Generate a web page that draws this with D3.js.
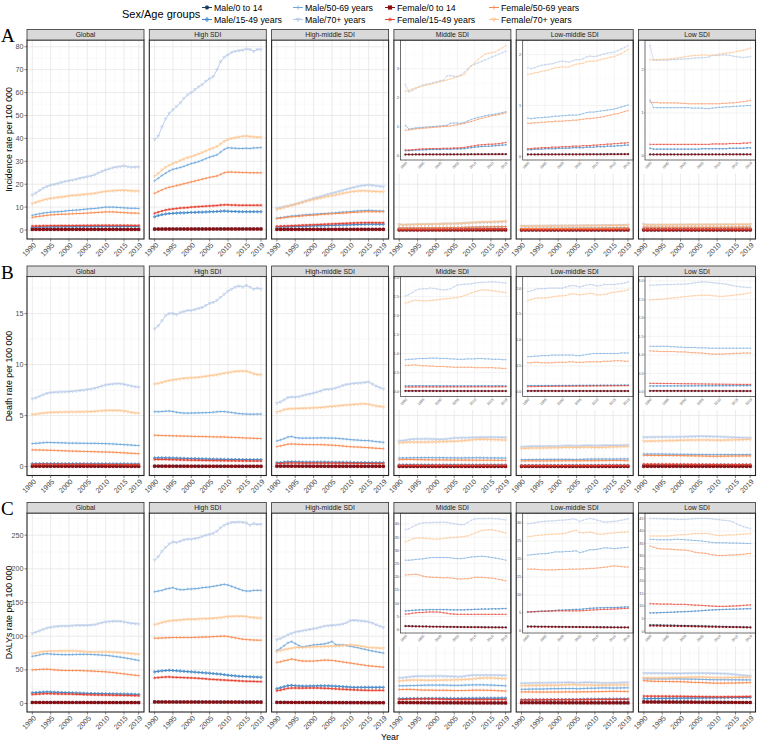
<!DOCTYPE html>
<html><head><meta charset="utf-8">
<script src="https://cdn.jsdelivr.net/npm/d3@7"></script>
<style>body{margin:0;background:#fff}text{font-family:"Liberation Sans",Arial,sans-serif}</style>
</head><body>
<svg id="chart" width="759" height="742"></svg>
<script>
// ---------------- DATA ----------------
const years = [1990,1991,1992,1993,1994,1995,1996,1997,1998,1999,2000,2001,2002,2003,2004,2005,2006,2007,2008,2009,2010,2011,2012,2013,2014,2015,2016,2017,2018,2019];
const xTicks = [1990,1995,2000,2005,2010,2015,2019];
const locations = ["Global","High SDI","High-middle SDI","Middle SDI","Low-middle SDI","Low SDI"];
const groups = ["Male/0 to 14","Male/15-49 years","Male/50-69 years","Male/70+ years","Female/0 to 14","Female/15-49 years","Female/50-69 years","Female/70+ years"];
const measures = ["Incidence rate per 100 000","Death rate per 100 000","DALYs rate per 100 000"];
const rowLabels = ["A","B","C"];
const yTicksA = [0,10,20,30,40,50,60,70,80];
const yTicksB = [0,5,10,15];
const yTicksC = [0,50,100,150,200,250];
const insetTicksA = [[0,1,2,3],[0,1,2],[0,1,2]];
const insetTicksB = [[0,0.5,1,1.5,2,2.5,3],[0,0.5,1,1.5,2],[0,0.5,1,1.5,2,2.5,3]];
const insetTicksC = [[0,5,10,15,20,25,30,35,40],[0,5,10,15,20,25,30],[0,5,10,15,20,25,30,35,40,45]];

// series order: groups[0..7]
const inc_global = [
[0.30,0.30,0.30,0.31,0.31,0.31,0.31,0.31,0.31,0.31,0.31,0.31,0.31,0.31,0.31,0.31,0.31,0.31,0.31,0.31,0.31,0.31,0.31,0.31,0.31,0.30,0.30,0.30,0.30,0.30],
[1.20,1.25,1.29,1.33,1.36,1.39,1.41,1.43,1.44,1.45,1.46,1.47,1.48,1.49,1.50,1.51,1.52,1.53,1.54,1.55,1.56,1.56,1.56,1.56,1.56,1.55,1.55,1.54,1.54,1.54],
[6.4,6.8,7.1,7.4,7.6,7.8,7.9,8.0,8.1,8.3,8.5,8.6,8.7,8.8,9.0,9.2,9.3,9.4,9.6,9.8,10.0,10.0,10.0,9.9,9.8,9.7,9.6,9.5,9.5,9.4],
[15.3,16.2,17.3,18.3,19.0,19.6,19.9,20.3,20.8,21.2,21.5,21.8,22.2,22.6,22.9,23.3,23.6,24.1,24.9,25.6,26.2,26.7,27.2,27.5,27.7,28.0,27.6,27.4,27.5,27.5],
[0.25,0.25,0.25,0.25,0.26,0.26,0.26,0.26,0.26,0.26,0.26,0.26,0.26,0.26,0.26,0.26,0.26,0.26,0.26,0.26,0.26,0.26,0.26,0.26,0.26,0.25,0.25,0.25,0.25,0.25],
[1.70,1.76,1.81,1.85,1.88,1.90,1.92,1.93,1.94,1.95,1.96,1.97,1.98,1.99,2.00,2.01,2.02,2.03,2.04,2.05,2.06,2.06,2.06,2.05,2.05,2.04,2.03,2.02,2.01,2.01],
[5.5,5.8,6.0,6.2,6.4,6.6,6.7,6.8,6.9,6.9,7.0,7.1,7.2,7.2,7.3,7.4,7.5,7.6,7.7,7.8,7.9,7.9,7.9,7.8,7.7,7.6,7.5,7.4,7.4,7.3],
[11.5,12.1,12.6,13.1,13.5,13.8,14.0,14.2,14.4,14.6,14.9,15.1,15.2,15.3,15.5,15.7,15.8,16.0,16.3,16.6,16.8,17.0,17.1,17.2,17.3,17.3,17.2,17.1,17.0,17.0]];
const inc_high = [
[0.42,0.43,0.44,0.45,0.45,0.46,0.46,0.46,0.47,0.47,0.47,0.47,0.48,0.48,0.48,0.48,0.48,0.49,0.49,0.49,0.49,0.49,0.49,0.49,0.49,0.49,0.49,0.49,0.49,0.49],
[5.8,6.3,6.7,7.0,7.2,7.3,7.4,7.5,7.5,7.6,7.7,7.7,7.8,7.8,7.9,8.0,8.0,8.1,8.2,8.3,8.2,8.1,8.1,8.0,8.0,8.0,8.0,8.0,8.0,8.0],
[21.5,22.6,23.8,24.8,25.8,26.5,26.9,27.3,27.8,28.4,29.0,29.4,29.9,30.5,31.2,31.8,32.3,32.8,34.0,35.2,35.9,35.8,35.7,35.6,35.6,35.7,35.6,35.8,35.9,36.0],
[39.5,41.0,45.0,48.5,51.0,52.5,54.0,55.5,57.5,59.0,60.0,61.3,62.5,63.5,65.0,66.0,67.0,70.0,73.5,75.5,76.5,77.5,78.0,78.3,78.5,79.0,78.8,78.0,78.8,78.8],
[0.38,0.39,0.40,0.40,0.41,0.41,0.41,0.42,0.42,0.42,0.42,0.42,0.43,0.43,0.43,0.43,0.43,0.43,0.43,0.43,0.43,0.43,0.43,0.43,0.43,0.43,0.43,0.43,0.43,0.43],
[7.3,7.8,8.3,8.7,9.0,9.2,9.4,9.6,9.7,9.8,10.0,10.1,10.2,10.3,10.4,10.5,10.6,10.7,10.9,11.0,11.0,10.9,10.9,10.8,10.8,10.8,10.8,10.8,10.8,10.8],
[16.0,16.8,17.5,18.2,18.7,19.0,19.4,19.8,20.2,20.6,21.0,21.4,21.8,22.2,22.6,23.0,23.3,23.6,24.3,25.0,25.3,25.3,25.2,25.2,25.1,25.1,25.0,25.0,25.0,25.0],
[23.5,24.7,26.2,27.4,28.3,29.0,29.6,30.3,31.0,31.6,32.0,32.6,33.2,33.8,34.5,35.2,35.8,36.5,37.6,38.7,39.5,40.0,40.3,40.6,40.9,41.0,40.8,40.6,40.5,40.5]];
const inc_hm = [
[0.30,0.30,0.30,0.31,0.31,0.31,0.31,0.31,0.31,0.32,0.32,0.32,0.32,0.32,0.32,0.32,0.32,0.32,0.32,0.32,0.32,0.32,0.32,0.32,0.32,0.32,0.32,0.32,0.32,0.32],
[1.30,1.34,1.39,1.45,1.50,1.55,1.59,1.64,1.69,1.74,1.80,1.85,1.89,1.94,2.00,2.05,2.09,2.14,2.20,2.25,2.30,2.35,2.40,2.44,2.49,2.52,2.52,2.51,2.50,2.50],
[5.2,5.4,5.6,5.9,6.1,6.2,6.4,6.5,6.7,6.8,6.9,7.0,7.1,7.2,7.3,7.4,7.5,7.7,7.8,7.9,8.0,8.2,8.3,8.4,8.5,8.6,8.5,8.4,8.3,8.3],
[9.5,9.8,10.2,10.5,10.9,11.3,11.8,12.3,12.8,13.3,13.8,14.2,14.6,15.1,15.6,16.0,16.4,16.9,17.3,17.8,18.2,18.6,19.0,19.3,19.5,19.7,19.5,19.3,19.1,18.9],
[0.26,0.26,0.27,0.27,0.27,0.27,0.27,0.27,0.27,0.27,0.28,0.28,0.28,0.28,0.28,0.28,0.28,0.28,0.28,0.28,0.28,0.28,0.28,0.28,0.28,0.28,0.28,0.28,0.28,0.28],
[1.60,1.68,1.75,1.82,1.90,1.97,2.04,2.11,2.18,2.25,2.32,2.39,2.46,2.53,2.60,2.67,2.74,2.81,2.88,2.95,3.02,3.09,3.14,3.18,3.22,3.24,3.23,3.21,3.19,3.18],
[5.0,5.2,5.4,5.6,5.8,5.9,6.0,6.2,6.3,6.4,6.5,6.6,6.8,6.9,7.0,7.1,7.2,7.3,7.4,7.5,7.6,7.7,7.8,7.9,8.0,8.0,8.0,8.0,8.0,8.0],
[9.0,9.4,9.8,10.3,10.7,11.1,11.6,12.0,12.5,12.9,13.3,13.7,14.0,14.4,14.7,15.0,15.3,15.7,16.0,16.3,16.6,16.8,17.0,17.1,17.1,17.0,16.9,16.8,16.7,16.7]];
const inc_mid = [
[0.050,0.050,0.050,0.051,0.051,0.051,0.052,0.052,0.052,0.052,0.053,0.053,0.053,0.053,0.054,0.054,0.054,0.055,0.055,0.056,0.056,0.057,0.057,0.058,0.058,0.059,0.059,0.060,0.060,0.060],
[0.18,0.18,0.19,0.20,0.20,0.21,0.21,0.22,0.22,0.22,0.22,0.23,0.23,0.23,0.24,0.24,0.24,0.25,0.27,0.28,0.30,0.31,0.32,0.33,0.33,0.34,0.35,0.36,0.37,0.38],
[1.05,0.92,0.94,0.96,0.97,0.98,0.99,1.00,1.01,1.02,1.03,1.04,1.05,1.12,1.13,1.13,1.12,1.15,1.20,1.25,1.29,1.32,1.35,1.38,1.40,1.42,1.44,1.46,1.49,1.52],
[2.46,2.20,2.25,2.32,2.38,2.44,2.46,2.48,2.52,2.55,2.58,2.60,2.75,2.76,2.74,2.73,2.78,2.88,3.00,3.10,3.15,3.20,3.25,3.30,3.35,3.40,3.45,3.50,3.55,3.60],
[0.045,0.045,0.045,0.046,0.046,0.046,0.047,0.047,0.047,0.047,0.048,0.048,0.048,0.048,0.049,0.049,0.049,0.050,0.050,0.051,0.051,0.052,0.052,0.053,0.053,0.054,0.054,0.055,0.055,0.055],
[0.20,0.20,0.21,0.22,0.23,0.24,0.24,0.25,0.25,0.25,0.25,0.26,0.26,0.26,0.27,0.27,0.28,0.29,0.31,0.33,0.35,0.37,0.38,0.39,0.40,0.40,0.41,0.42,0.44,0.46],
[0.88,0.89,0.91,0.93,0.94,0.95,0.96,0.97,0.98,0.99,1.00,1.01,1.02,1.03,1.05,1.07,1.09,1.12,1.15,1.18,1.22,1.26,1.29,1.32,1.35,1.38,1.40,1.42,1.45,1.48],
[2.22,2.25,2.30,2.34,2.37,2.40,2.43,2.46,2.49,2.52,2.55,2.58,2.61,2.65,2.68,2.72,2.76,2.80,2.95,3.10,3.20,3.32,3.42,3.50,3.53,3.55,3.58,3.65,3.72,3.80]];
const inc_lm = [
[0.040,0.040,0.040,0.040,0.041,0.041,0.041,0.041,0.041,0.041,0.042,0.042,0.042,0.042,0.042,0.042,0.042,0.043,0.043,0.043,0.043,0.043,0.043,0.044,0.044,0.044,0.044,0.044,0.045,0.045],
[0.13,0.13,0.14,0.14,0.14,0.15,0.15,0.15,0.15,0.16,0.16,0.16,0.16,0.17,0.17,0.17,0.17,0.18,0.18,0.18,0.19,0.19,0.19,0.20,0.20,0.20,0.21,0.21,0.22,0.22],
[0.75,0.74,0.75,0.76,0.76,0.77,0.77,0.78,0.79,0.79,0.80,0.80,0.81,0.81,0.81,0.82,0.84,0.86,0.87,0.87,0.88,0.89,0.90,0.91,0.92,0.93,0.95,0.97,0.99,1.01],
[1.74,1.72,1.74,1.77,1.79,1.80,1.81,1.82,1.84,1.86,1.87,1.86,1.85,1.88,1.90,1.90,1.92,1.95,1.97,1.96,1.97,1.99,2.01,2.03,2.04,2.05,2.08,2.11,2.14,2.18],
[0.035,0.035,0.035,0.035,0.036,0.036,0.036,0.036,0.036,0.036,0.037,0.037,0.037,0.037,0.037,0.037,0.037,0.038,0.038,0.038,0.038,0.038,0.038,0.039,0.039,0.039,0.039,0.039,0.040,0.040],
[0.15,0.15,0.16,0.16,0.17,0.17,0.17,0.18,0.18,0.18,0.19,0.19,0.19,0.20,0.20,0.20,0.21,0.21,0.21,0.22,0.22,0.23,0.23,0.24,0.24,0.25,0.25,0.26,0.26,0.27],
[0.65,0.65,0.66,0.66,0.67,0.67,0.68,0.68,0.69,0.69,0.69,0.70,0.70,0.71,0.71,0.72,0.73,0.74,0.74,0.75,0.76,0.77,0.78,0.80,0.81,0.83,0.84,0.86,0.88,0.90],
[1.61,1.62,1.64,1.65,1.67,1.68,1.70,1.72,1.74,1.75,1.76,1.75,1.76,1.79,1.81,1.82,1.83,1.86,1.87,1.87,1.88,1.90,1.92,1.93,1.95,1.96,1.99,2.02,2.06,2.10]];
const inc_low = [
[0.040,0.040,0.040,0.040,0.040,0.040,0.040,0.040,0.040,0.040,0.040,0.040,0.041,0.041,0.041,0.041,0.041,0.041,0.041,0.041,0.041,0.041,0.042,0.042,0.042,0.042,0.042,0.042,0.042,0.042],
[0.18,0.16,0.16,0.16,0.16,0.16,0.16,0.16,0.16,0.16,0.16,0.16,0.16,0.16,0.16,0.17,0.17,0.17,0.17,0.17,0.17,0.17,0.17,0.18,0.18,0.18,0.18,0.18,0.19,0.19],
[1.30,1.12,1.12,1.12,1.12,1.12,1.12,1.12,1.12,1.12,1.12,1.12,1.11,1.11,1.11,1.11,1.10,1.10,1.11,1.12,1.13,1.13,1.14,1.14,1.15,1.15,1.16,1.16,1.17,1.17],
[2.56,2.22,2.22,2.22,2.22,2.22,2.23,2.23,2.24,2.24,2.25,2.25,2.26,2.27,2.27,2.28,2.28,2.29,2.33,2.33,2.33,2.34,2.34,2.33,2.31,2.30,2.29,2.28,2.29,2.30],
[0.035,0.035,0.035,0.035,0.035,0.035,0.035,0.035,0.035,0.035,0.035,0.035,0.036,0.036,0.036,0.036,0.036,0.036,0.036,0.036,0.036,0.036,0.037,0.037,0.037,0.037,0.037,0.037,0.037,0.037],
[0.27,0.27,0.27,0.27,0.27,0.27,0.27,0.27,0.27,0.27,0.27,0.27,0.27,0.27,0.27,0.27,0.27,0.27,0.28,0.28,0.28,0.28,0.28,0.29,0.29,0.29,0.29,0.30,0.30,0.31],
[1.25,1.24,1.24,1.23,1.23,1.23,1.23,1.23,1.23,1.22,1.22,1.21,1.21,1.21,1.21,1.21,1.21,1.21,1.21,1.21,1.21,1.22,1.22,1.23,1.23,1.24,1.25,1.26,1.27,1.29],
[2.23,2.23,2.23,2.23,2.24,2.24,2.25,2.26,2.27,2.28,2.30,2.31,2.32,2.33,2.33,2.34,2.34,2.33,2.33,2.34,2.36,2.37,2.38,2.39,2.40,2.42,2.43,2.45,2.47,2.50]];

const dea_global = [
[0.040,0.040,0.040,0.039,0.039,0.039,0.038,0.038,0.038,0.037,0.037,0.037,0.036,0.036,0.036,0.035,0.035,0.035,0.034,0.034,0.034,0.033,0.033,0.033,0.032,0.032,0.032,0.031,0.031,0.031],
[0.28,0.28,0.29,0.29,0.29,0.29,0.29,0.29,0.28,0.28,0.28,0.28,0.28,0.28,0.28,0.27,0.27,0.27,0.27,0.27,0.27,0.26,0.26,0.26,0.26,0.26,0.25,0.25,0.25,0.25],
[2.26,2.28,2.31,2.34,2.37,2.36,2.35,2.34,2.33,2.32,2.30,2.30,2.30,2.29,2.29,2.28,2.28,2.28,2.27,2.26,2.25,2.24,2.22,2.20,2.18,2.15,2.13,2.11,2.08,2.06],
[6.64,6.75,6.90,7.05,7.18,7.25,7.28,7.30,7.32,7.33,7.35,7.38,7.42,7.46,7.50,7.55,7.60,7.68,7.78,7.90,8.00,8.05,8.10,8.13,8.12,8.06,7.98,7.90,7.83,7.78],
[0.035,0.035,0.035,0.034,0.034,0.034,0.033,0.033,0.033,0.032,0.032,0.032,0.031,0.031,0.031,0.030,0.030,0.030,0.029,0.029,0.029,0.028,0.028,0.028,0.027,0.027,0.027,0.026,0.026,0.026],
[0.22,0.22,0.23,0.23,0.23,0.23,0.23,0.23,0.22,0.22,0.22,0.22,0.22,0.22,0.22,0.21,0.21,0.21,0.21,0.21,0.21,0.20,0.20,0.20,0.20,0.20,0.19,0.19,0.19,0.19],
[1.64,1.63,1.63,1.62,1.61,1.60,1.59,1.57,1.56,1.55,1.53,1.52,1.51,1.50,1.49,1.48,1.47,1.46,1.45,1.44,1.43,1.42,1.41,1.39,1.37,1.35,1.33,1.31,1.29,1.27],
[5.10,5.15,5.20,5.25,5.28,5.30,5.32,5.33,5.34,5.35,5.35,5.36,5.36,5.37,5.37,5.38,5.39,5.41,5.44,5.47,5.49,5.50,5.50,5.50,5.49,5.45,5.38,5.31,5.26,5.23]];
const dea_high = [
[0.050,0.049,0.048,0.047,0.046,0.045,0.044,0.043,0.042,0.041,0.040,0.040,0.039,0.039,0.038,0.038,0.037,0.037,0.036,0.036,0.036,0.035,0.035,0.035,0.034,0.034,0.034,0.034,0.033,0.033],
[0.85,0.86,0.86,0.86,0.85,0.84,0.83,0.82,0.81,0.80,0.79,0.78,0.77,0.76,0.75,0.74,0.73,0.72,0.72,0.71,0.71,0.70,0.70,0.70,0.69,0.69,0.69,0.68,0.68,0.68],
[5.39,5.38,5.40,5.43,5.45,5.40,5.33,5.28,5.25,5.24,5.25,5.26,5.27,5.28,5.29,5.30,5.33,5.37,5.40,5.39,5.35,5.30,5.25,5.20,5.17,5.15,5.14,5.14,5.15,5.15],
[13.5,13.8,14.3,14.8,15.0,15.0,14.9,15.1,15.2,15.3,15.3,15.4,15.5,15.6,15.8,16.0,16.1,16.3,16.6,16.9,17.2,17.4,17.6,17.7,17.6,17.75,17.6,17.4,17.5,17.4],
[0.040,0.039,0.038,0.038,0.037,0.036,0.036,0.035,0.034,0.034,0.033,0.033,0.032,0.032,0.031,0.031,0.031,0.030,0.030,0.030,0.029,0.029,0.029,0.029,0.028,0.028,0.028,0.028,0.028,0.028],
[0.70,0.70,0.70,0.70,0.69,0.68,0.67,0.66,0.65,0.64,0.63,0.62,0.62,0.61,0.60,0.60,0.59,0.59,0.58,0.58,0.57,0.57,0.57,0.56,0.56,0.56,0.55,0.55,0.55,0.55],
[3.07,3.06,3.05,3.04,3.03,3.02,3.01,3.00,2.99,2.98,2.97,2.96,2.95,2.95,2.94,2.93,2.92,2.91,2.91,2.90,2.88,2.87,2.85,2.84,2.82,2.80,2.79,2.78,2.76,2.75],
[8.08,8.15,8.25,8.35,8.43,8.50,8.55,8.60,8.65,8.68,8.70,8.72,8.75,8.80,8.85,8.90,8.95,9.00,9.08,9.15,9.20,9.27,9.32,9.35,9.36,9.35,9.25,9.10,9.02,9.00]];
const dea_hm = [
[0.050,0.050,0.050,0.050,0.049,0.048,0.047,0.046,0.045,0.044,0.043,0.042,0.041,0.040,0.039,0.038,0.037,0.036,0.035,0.035,0.034,0.034,0.033,0.033,0.032,0.032,0.032,0.031,0.031,0.031],
[0.38,0.40,0.43,0.46,0.47,0.46,0.45,0.44,0.44,0.44,0.44,0.44,0.44,0.44,0.43,0.43,0.42,0.42,0.42,0.41,0.41,0.40,0.40,0.40,0.39,0.39,0.39,0.38,0.38,0.38],
[2.52,2.62,2.75,2.90,2.95,2.85,2.80,2.79,2.80,2.80,2.80,2.81,2.82,2.81,2.80,2.80,2.78,2.75,2.72,2.69,2.65,2.62,2.60,2.57,2.55,2.55,2.50,2.45,2.42,2.38],
[6.22,6.35,6.55,6.77,6.82,6.80,6.85,6.95,7.05,7.12,7.20,7.30,7.42,7.55,7.58,7.60,7.70,7.82,7.95,8.05,8.10,8.15,8.18,8.20,8.25,8.30,8.10,7.90,7.75,7.62],
[0.040,0.040,0.040,0.040,0.039,0.038,0.037,0.036,0.036,0.035,0.034,0.033,0.033,0.032,0.031,0.031,0.030,0.029,0.029,0.028,0.028,0.027,0.027,0.027,0.026,0.026,0.026,0.025,0.025,0.025],
[0.30,0.31,0.33,0.35,0.36,0.35,0.35,0.34,0.34,0.34,0.34,0.34,0.34,0.34,0.34,0.33,0.33,0.33,0.33,0.32,0.32,0.32,0.31,0.31,0.31,0.31,0.30,0.30,0.30,0.30],
[1.96,2.03,2.12,2.20,2.22,2.20,2.18,2.17,2.16,2.16,2.15,2.15,2.15,2.14,2.12,2.10,2.08,2.05,2.02,1.98,1.95,1.93,1.92,1.90,1.88,1.85,1.83,1.80,1.78,1.75],
[5.33,5.45,5.58,5.65,5.67,5.68,5.70,5.71,5.72,5.74,5.75,5.77,5.80,5.83,5.87,5.90,5.93,5.96,6.00,6.03,6.05,6.08,6.11,6.15,6.15,6.10,6.02,5.95,5.90,5.85]];
const dea_mid = [
[0.022,0.022,0.022,0.022,0.021,0.021,0.021,0.021,0.021,0.020,0.020,0.020,0.020,0.020,0.020,0.019,0.019,0.019,0.019,0.019,0.019,0.019,0.018,0.018,0.018,0.018,0.018,0.018,0.018,0.018],
[0.150,0.151,0.152,0.153,0.153,0.153,0.153,0.152,0.152,0.152,0.151,0.151,0.151,0.150,0.150,0.150,0.150,0.150,0.150,0.151,0.151,0.151,0.152,0.152,0.152,0.152,0.152,0.152,0.152,0.152],
[0.84,0.85,0.85,0.86,0.87,0.87,0.87,0.88,0.88,0.88,0.87,0.87,0.87,0.86,0.86,0.85,0.85,0.85,0.86,0.86,0.86,0.87,0.87,0.86,0.86,0.85,0.85,0.85,0.84,0.84],
[2.51,2.55,2.60,2.66,2.69,2.70,2.70,2.72,2.71,2.70,2.68,2.67,2.68,2.70,2.75,2.80,2.81,2.82,2.82,2.83,2.85,2.86,2.87,2.87,2.88,2.88,2.88,2.87,2.86,2.85],
[0.020,0.020,0.020,0.020,0.019,0.019,0.019,0.019,0.019,0.018,0.018,0.018,0.018,0.018,0.018,0.017,0.017,0.017,0.017,0.017,0.017,0.017,0.016,0.016,0.016,0.016,0.016,0.016,0.016,0.016],
[0.120,0.121,0.122,0.123,0.124,0.124,0.124,0.124,0.124,0.124,0.124,0.124,0.125,0.125,0.125,0.125,0.125,0.125,0.126,0.126,0.126,0.126,0.127,0.127,0.127,0.127,0.128,0.128,0.128,0.128],
[0.69,0.69,0.70,0.70,0.69,0.68,0.68,0.67,0.67,0.66,0.66,0.66,0.65,0.65,0.64,0.64,0.64,0.64,0.64,0.64,0.63,0.63,0.63,0.63,0.63,0.63,0.62,0.62,0.61,0.61],
[2.32,2.35,2.38,2.40,2.39,2.38,2.38,2.39,2.40,2.41,2.42,2.43,2.44,2.45,2.46,2.47,2.49,2.52,2.55,2.59,2.62,2.65,2.67,2.67,2.66,2.65,2.64,2.63,2.61,2.60]];
const dea_lm = [
[0.020,0.020,0.020,0.020,0.020,0.020,0.020,0.020,0.019,0.019,0.019,0.019,0.019,0.019,0.019,0.019,0.019,0.019,0.019,0.019,0.018,0.018,0.018,0.018,0.018,0.018,0.018,0.018,0.018,0.018],
[0.120,0.120,0.120,0.121,0.121,0.121,0.122,0.122,0.122,0.123,0.123,0.123,0.124,0.124,0.124,0.125,0.125,0.125,0.126,0.126,0.126,0.127,0.127,0.127,0.128,0.128,0.128,0.129,0.129,0.130],
[0.68,0.68,0.69,0.69,0.70,0.70,0.70,0.71,0.71,0.71,0.71,0.71,0.71,0.71,0.70,0.70,0.71,0.72,0.73,0.74,0.74,0.74,0.74,0.74,0.74,0.74,0.74,0.75,0.75,0.75],
[1.93,1.95,1.97,1.99,1.99,1.99,2.00,2.00,2.00,2.00,2.00,2.02,2.04,2.05,2.04,2.02,2.04,2.06,2.07,2.06,2.04,2.05,2.07,2.07,2.07,2.07,2.08,2.09,2.10,2.12],
[0.018,0.018,0.018,0.018,0.018,0.018,0.018,0.018,0.017,0.017,0.017,0.017,0.017,0.017,0.017,0.017,0.017,0.017,0.017,0.017,0.016,0.016,0.016,0.016,0.016,0.016,0.016,0.016,0.016,0.016],
[0.100,0.101,0.102,0.103,0.104,0.104,0.105,0.106,0.106,0.107,0.108,0.108,0.109,0.110,0.110,0.111,0.112,0.112,0.113,0.114,0.114,0.115,0.116,0.116,0.117,0.118,0.118,0.119,0.119,0.120],
[0.56,0.56,0.57,0.57,0.56,0.56,0.56,0.56,0.57,0.57,0.57,0.57,0.58,0.58,0.57,0.57,0.57,0.58,0.58,0.58,0.58,0.58,0.59,0.59,0.59,0.60,0.60,0.60,0.59,0.59],
[1.76,1.78,1.80,1.81,1.81,1.81,1.82,1.83,1.84,1.85,1.85,1.86,1.88,1.89,1.88,1.87,1.88,1.89,1.90,1.89,1.87,1.87,1.88,1.89,1.91,1.92,1.93,1.94,1.95,1.97]];
const dea_low = [
[0.030,0.030,0.030,0.030,0.030,0.029,0.029,0.029,0.029,0.029,0.028,0.028,0.028,0.028,0.028,0.027,0.027,0.027,0.027,0.027,0.026,0.026,0.026,0.026,0.026,0.025,0.025,0.025,0.025,0.025],
[0.160,0.160,0.160,0.160,0.161,0.161,0.161,0.162,0.162,0.162,0.163,0.163,0.163,0.164,0.164,0.164,0.165,0.165,0.165,0.166,0.166,0.166,0.167,0.167,0.167,0.168,0.168,0.168,0.169,0.170],
[1.23,1.23,1.23,1.23,1.23,1.23,1.22,1.22,1.21,1.21,1.20,1.20,1.20,1.20,1.19,1.19,1.19,1.18,1.18,1.18,1.18,1.18,1.18,1.18,1.18,1.18,1.18,1.18,1.18,1.18],
[2.88,2.88,2.89,2.89,2.90,2.90,2.90,2.90,2.91,2.91,2.91,2.92,2.93,2.95,2.96,2.97,2.97,2.96,2.95,2.94,2.93,2.92,2.91,2.89,2.87,2.85,2.84,2.83,2.82,2.82],
[0.028,0.028,0.028,0.028,0.027,0.027,0.027,0.027,0.027,0.026,0.026,0.026,0.026,0.026,0.025,0.025,0.025,0.025,0.025,0.024,0.024,0.024,0.024,0.024,0.024,0.023,0.023,0.023,0.023,0.023],
[0.230,0.229,0.229,0.228,0.227,0.226,0.226,0.225,0.224,0.222,0.221,0.220,0.219,0.218,0.216,0.215,0.213,0.212,0.210,0.209,0.208,0.207,0.206,0.205,0.204,0.203,0.203,0.202,0.202,0.201],
[1.11,1.10,1.10,1.09,1.09,1.09,1.09,1.09,1.08,1.08,1.08,1.07,1.06,1.06,1.05,1.05,1.04,1.03,1.02,1.02,1.02,1.02,1.03,1.03,1.04,1.04,1.04,1.05,1.05,1.05],
[2.48,2.49,2.50,2.50,2.51,2.52,2.53,2.54,2.55,2.56,2.57,2.58,2.59,2.60,2.60,2.61,2.61,2.61,2.60,2.59,2.58,2.58,2.59,2.60,2.61,2.62,2.63,2.64,2.66,2.68]];

const dal_global = [
[1.70,1.69,1.68,1.67,1.66,1.65,1.64,1.63,1.62,1.61,1.60,1.60,1.59,1.59,1.58,1.58,1.57,1.57,1.56,1.56,1.55,1.55,1.54,1.54,1.53,1.53,1.52,1.52,1.51,1.50],
[16.0,16.3,16.6,16.9,17.1,17.0,16.8,16.6,16.4,16.2,16.0,15.8,15.6,15.4,15.2,15.0,14.9,14.8,14.7,14.6,14.5,14.4,14.3,14.2,14.1,14.0,13.9,13.8,13.6,13.5],
[70.0,71.0,72.3,73.5,74.0,73.5,73.0,72.8,72.6,72.5,72.5,72.6,72.8,73.0,73.0,73.0,72.8,72.5,72.2,71.8,71.5,71.0,70.3,69.5,68.8,68.0,67.0,66.0,65.0,64.0],
[104,106,108,110,112,113,114,114.5,115,115,115,115.5,116,116,116,116,116.5,117,118.5,120,121,121.5,122,122,122,121,120,119,118.5,118],
[1.50,1.49,1.48,1.47,1.46,1.45,1.44,1.43,1.42,1.41,1.40,1.40,1.39,1.39,1.38,1.38,1.37,1.37,1.36,1.36,1.35,1.35,1.34,1.34,1.33,1.33,1.32,1.32,1.31,1.30],
[13.5,13.8,14.1,14.4,14.6,14.5,14.4,14.2,14.1,14.0,14.0,13.8,13.6,13.4,13.2,13.0,12.9,12.8,12.7,12.6,12.5,12.4,12.3,12.2,12.1,12.0,11.9,11.8,11.6,11.5],
[50.0,50.3,50.6,50.9,51.0,50.5,50.0,49.6,49.3,49.1,49.0,49.0,49.0,48.9,48.7,48.5,48.2,47.9,47.6,47.3,47.0,46.5,46.0,45.3,44.6,44.0,43.3,42.6,42.0,41.5],
[74.0,75.0,76.2,77.0,77.5,77.5,77.7,77.8,78.0,78.0,78.0,78.0,77.8,77.5,77.0,76.5,76.5,76.5,76.5,76.5,76.5,76.5,76.3,76.0,75.5,75.0,74.5,74.0,73.5,73.0]];
const dal_high = [
[2.50,2.48,2.46,2.45,2.44,2.43,2.42,2.41,2.40,2.39,2.38,2.37,2.36,2.35,2.34,2.33,2.32,2.31,2.30,2.29,2.28,2.27,2.26,2.25,2.24,2.23,2.22,2.21,2.20,2.20],
[47.0,47.8,48.5,49.0,49.3,49.0,48.6,48.2,47.8,47.4,47.0,46.6,46.2,45.8,45.4,45.0,44.5,44.0,43.5,42.8,42.0,41.5,41.0,40.5,40.2,40.0,39.7,39.4,39.2,39.0],
[166,167,168,170,171,172,170,169,169,170,170,170.5,171,172,172.5,173,174,175,176,177,176,174,172,170,168,167,167,168,168,168],
[213,218,226,232,237,240,239,241,243,244,244,245,246,248,250,251,253,256,261,265,267,269,269,269.5,269,268,265,267,266,266],
[2.20,2.18,2.16,2.15,2.14,2.13,2.12,2.11,2.10,2.09,2.08,2.07,2.06,2.05,2.04,2.03,2.02,2.01,2.00,1.99,1.98,1.97,1.96,1.95,1.94,1.93,1.92,1.91,1.90,1.90],
[38.0,38.5,39.0,39.3,39.5,39.0,38.8,38.6,38.4,38.2,38.0,37.7,37.4,37.0,36.6,36.0,35.7,35.4,35.1,34.8,34.5,34.2,33.9,33.6,33.3,33.0,32.9,32.8,32.6,32.5],
[97.0,97.0,97.3,97.6,97.8,98.0,98.0,98.0,98.0,98.0,98.0,98.2,98.4,98.6,98.8,99.0,99.3,99.6,99.8,100.0,99.5,98.5,97.5,96.5,95.5,95.0,94.6,94.3,94.1,94.0],
[117,118.5,120,121.5,122.5,123,123.5,124,124.5,125,125,125,125.5,126,126,126,126.5,127,127.5,128.5,129,129.3,129.5,129.5,129.5,129,128,127.5,127,127]];
const dal_hm = [
[1.80,1.78,1.76,1.74,1.72,1.70,1.68,1.66,1.64,1.62,1.60,1.58,1.56,1.54,1.52,1.50,1.48,1.46,1.44,1.43,1.42,1.41,1.40,1.39,1.38,1.37,1.36,1.35,1.34,1.33],
[22.0,23.5,25.0,26.5,27.0,26.5,26.0,25.8,25.8,26.0,26.0,26.2,26.3,26.3,26.2,26.0,25.7,25.4,25.0,24.6,24.2,24.0,24.0,24.0,24.0,24.0,24.0,24.0,24.0,24.0],
[78.8,82.0,86.0,90.0,92.0,89.0,86.0,84.0,85.0,86.0,87.0,87.5,88.0,88.5,90.0,92.0,87.5,87.0,87.0,86.0,85.0,84.0,83.0,81.5,80.5,79.0,78.0,77.0,76.0,75.0],
[94.8,96.5,99.0,102,104,106,107,108,109,110,111,112,113.5,115,115.5,116,116.5,117,118,120,123,123.5,123,122.5,122,121,119.5,117,115,113],
[1.60,1.58,1.56,1.54,1.52,1.50,1.48,1.46,1.44,1.42,1.40,1.38,1.36,1.34,1.32,1.30,1.28,1.26,1.24,1.23,1.22,1.21,1.20,1.19,1.18,1.17,1.16,1.15,1.14,1.13],
[19.0,20.0,21.2,22.5,23.0,23.0,22.8,22.8,22.9,23.0,23.0,23.0,22.8,22.6,22.4,22.0,21.7,21.4,21.1,20.8,20.5,20.2,20.0,19.8,19.6,19.5,19.5,19.5,19.5,19.5],
[61.0,62.0,63.5,64.5,66.0,65.0,63.8,63.0,63.0,63.0,63.0,63.5,64.0,64.5,64.3,64.0,63.3,62.5,61.7,60.8,60.0,59.2,58.4,57.6,56.8,56.0,55.5,55.0,54.5,54.0],
[77.0,78.5,80.0,81.0,82.0,83.0,83.2,83.4,83.6,83.8,84.0,84.2,84.4,84.6,84.8,85.0,85.3,85.6,86.0,86.5,87.0,86.5,86.0,85.0,84.0,83.0,82.8,82.5,82.2,82.0]];
const dal_mid = [
[1.40,1.38,1.35,1.33,1.30,1.28,1.26,1.24,1.22,1.20,1.18,1.16,1.14,1.12,1.10,1.08,1.06,1.04,1.02,1.01,1.00,0.99,0.98,0.97,0.96,0.95,0.94,0.93,0.92,0.91],
[7.1,7.2,7.3,7.4,7.5,7.5,7.5,7.6,7.6,7.6,7.6,7.6,7.6,7.5,7.5,7.5,7.5,7.5,7.6,7.6,7.7,7.7,7.8,7.8,7.8,7.9,7.9,7.9,8.0,8.0],
[26.3,26.3,26.4,26.6,26.7,26.8,27.0,27.2,27.3,27.3,27.3,27.3,27.3,27.2,27.0,26.9,26.9,27.0,27.3,27.5,27.6,27.7,27.8,27.7,27.5,27.3,27.1,26.9,26.6,26.3],
[37.9,38.2,38.9,39.5,40.1,40.4,40.5,40.5,40.6,40.6,40.6,40.7,40.6,40.3,40.1,39.9,39.7,39.8,40.6,41.4,41.9,42.0,42.0,42.0,42.1,42.0,42.0,41.9,41.7,41.5],
[1.30,1.28,1.25,1.23,1.20,1.18,1.16,1.14,1.12,1.10,1.08,1.06,1.04,1.02,1.00,0.98,0.96,0.94,0.92,0.91,0.90,0.89,0.88,0.87,0.86,0.85,0.84,0.83,0.82,0.81],
[5.9,6.0,6.2,6.4,6.5,6.5,6.6,6.7,6.7,6.7,6.6,6.4,6.2,6.0,5.9,5.8,5.8,5.8,5.8,5.8,5.8,5.8,5.8,5.8,5.8,5.8,5.8,5.8,5.8,5.8],
[20.7,20.8,20.9,21.0,20.7,20.3,20.0,19.9,19.8,19.8,19.7,19.6,19.7,19.6,19.4,19.2,19.2,19.3,19.3,19.5,19.8,19.8,19.8,19.7,19.6,19.5,19.3,19.0,18.8,18.5],
[33.3,33.7,34.3,34.6,34.7,34.6,34.5,34.4,34.3,34.3,34.3,34.5,34.7,34.8,34.9,35.0,35.1,35.3,35.5,36.0,36.5,37.0,37.5,37.7,37.8,37.8,37.5,37.2,36.9,36.6]];
const dal_lm = [
[1.30,1.29,1.28,1.27,1.26,1.25,1.24,1.23,1.22,1.21,1.20,1.19,1.18,1.17,1.16,1.15,1.14,1.13,1.12,1.11,1.10,1.09,1.08,1.07,1.06,1.05,1.04,1.03,1.02,1.01],
[5.30,5.35,5.40,5.45,5.50,5.50,5.55,5.60,5.70,5.80,5.80,5.85,5.90,5.95,6.00,6.00,6.10,6.20,6.30,6.35,6.40,6.45,6.45,6.50,6.50,6.50,6.55,6.60,6.65,6.70],
[21.1,21.2,21.3,21.4,21.5,21.5,21.6,21.8,22.0,22.0,22.0,22.1,22.1,22.2,22.3,21.8,22.0,22.3,22.6,22.6,22.7,22.9,23.1,23.1,23.0,22.9,23.0,23.1,23.2,23.3],
[29.8,29.9,30.1,30.3,30.4,30.5,30.6,30.6,30.7,30.8,30.8,30.9,31.0,31.2,31.0,30.5,30.8,31.1,31.3,31.1,30.8,30.6,30.3,30.3,30.4,30.5,30.6,30.8,31.0,31.2],
[1.20,1.19,1.18,1.17,1.16,1.15,1.14,1.13,1.12,1.11,1.10,1.09,1.08,1.07,1.06,1.05,1.04,1.03,1.02,1.01,1.00,0.99,0.99,0.98,0.98,0.97,0.97,0.96,0.96,0.95],
[5.30,5.30,5.35,5.40,5.45,5.50,5.50,5.55,5.60,5.60,5.60,5.60,5.60,5.60,5.60,5.60,5.65,5.70,5.80,5.85,5.90,5.95,6.00,6.00,6.05,6.10,6.15,6.20,6.25,6.30],
[17.2,17.2,17.2,17.1,17.0,17.0,17.0,17.0,17.0,17.1,17.1,17.1,17.2,17.2,17.2,17.2,17.3,17.3,17.4,17.4,17.5,17.6,17.7,17.8,18.0,18.1,18.0,17.9,17.8,17.8],
[26.2,26.3,26.5,26.6,26.7,26.8,26.8,26.9,26.9,27.0,27.0,27.2,27.5,27.8,28.0,27.4,27.3,27.4,27.5,27.3,27.0,26.9,27.0,27.1,27.2,27.3,27.4,27.5,27.5,27.6]];
const dal_low = [
[2.50,2.48,2.45,2.43,2.40,2.37,2.35,2.32,2.29,2.26,2.23,2.20,2.17,2.14,2.11,2.08,2.04,2.01,1.98,1.94,1.91,1.87,1.84,1.80,1.77,1.74,1.70,1.67,1.63,1.60],
[7.30,7.30,7.35,7.40,7.45,7.50,7.55,7.60,7.70,7.75,7.80,7.85,7.90,8.00,8.10,8.20,8.30,8.40,8.50,8.55,8.60,8.65,8.70,8.75,8.80,8.80,8.85,8.90,8.95,9.00],
[36.7,36.6,36.5,36.5,36.5,36.5,36.5,36.6,36.7,36.6,36.5,36.4,36.3,36.2,36.1,36.0,35.8,35.6,35.4,35.3,35.3,35.3,35.3,35.2,35.2,35.2,35.1,35.1,35.0,35.0],
[45.0,45.0,44.9,44.9,44.8,44.8,44.8,44.7,44.6,44.6,44.6,44.7,44.8,44.9,45.0,45.0,45.0,44.9,44.8,44.6,44.5,44.3,44.2,44.0,43.5,42.8,42.2,41.7,41.3,41.0],
[2.20,2.18,2.15,2.13,2.10,2.08,2.05,2.03,2.00,1.98,1.95,1.93,1.90,1.88,1.85,1.82,1.79,1.76,1.73,1.70,1.67,1.64,1.61,1.59,1.56,1.54,1.52,1.50,1.47,1.45],
[11.0,10.9,10.9,10.8,10.8,10.8,10.8,10.7,10.7,10.7,10.7,10.6,10.5,10.4,10.35,10.3,10.2,10.1,10.0,9.95,9.9,9.9,9.9,10.0,10.05,10.1,10.2,10.3,10.4,10.5],
[34.0,33.5,33.1,32.9,32.8,32.8,32.7,32.6,32.5,32.4,32.4,32.2,31.9,31.5,31.3,31.2,31.1,30.8,30.5,30.3,30.2,30.2,30.3,30.4,30.4,30.5,30.6,30.7,30.9,31.0],
[38.0,38.0,38.0,38.0,38.0,38.0,38.1,38.2,38.4,38.5,38.5,38.6,38.8,39.0,39.0,39.0,39.0,38.9,38.6,38.3,38.2,38.2,38.3,38.4,38.4,38.5,38.6,38.7,38.8,39.0]];

// ---------------- STYLE ----------------
const colors = ["#1f3b5e","#3d85c6","#6fa8dc","#b4c8e8","#8b0f12","#e8412f","#f98b50","#fdc38c"];
const shapes = ["circle","diamondplus","plus","tridown","square","asterisk","plus","tridown"];

const rows = [
  {data:[inc_global,inc_high,inc_hm,inc_mid,inc_lm,inc_low], ticks:yTicksA, inset:insetTicksA, ifmt:d3.format("d")},
  {data:[dea_global,dea_high,dea_hm,dea_mid,dea_lm,dea_low], ticks:yTicksB, inset:insetTicksB, ifmt:d3.format(".1f")},
  {data:[dal_global,dal_high,dal_hm,dal_mid,dal_lm,dal_low], ticks:yTicksC, inset:insetTicksC, ifmt:d3.format("d")}
];

const svg = d3.select("#chart");
const panelW = 117, panelH = 199, stripH = 10.5, panelStep = 122.3, firstLeft = 27;
const stripTops = [29.5, 266, 502.5];
const xDom = [years[0] - 0.05*(years[29]-years[0]), years[29] + 0.05*(years[29]-years[0])];

function shapePath(t, s){
  switch(t){
    case "circle": return `M${-s},0a${s},${s} 0 1,0 ${2*s},0a${s},${s} 0 1,0 ${-2*s},0Z`;
    case "square": return `M${-s},${-s}H${s}V${s}H${-s}Z`;
    case "plus": return `M${-s},0H${s}M0,${-s}V${s}`;
    case "tridown": return `M${-s},${-s*0.6}H${s}L0,${s*1.1}Z`;
    case "diamondplus": return `M0,${-s}L${s},0L0,${s}L${-s},0ZM${-s},0H${s}M0,${-s}V${s}`;
    case "asterisk": {const d=s*0.72; return `M${-s},0H${s}M0,${-s}V${s}M${-d},${-d}L${d},${d}M${-d},${d}L${d},${-d}`;}
  }
}
const filled = t => t==="circle"||t==="square";

function minorOf(t, dom){
  const out=[];
  for(let i=0;i<t.length-1;i++) out.push((t[i]+t[i+1])/2);
  const st=t[1]-t[0];
  if(t[t.length-1]+st/2<=dom[1]) out.push(t[t.length-1]+st/2);
  if(t[0]-st/2>=dom[0]) out.unshift(t[0]-st/2);
  return out;
}

function drawSeries(g, data, x, y, lw, ms, msw){
  data.forEach((vals, si) => {
    const pts = vals.map((v,i)=>[x(years[i]), y(v)]);
    g.append("path").attr("d", d3.line()(pts)).attr("fill","none")
      .attr("stroke", colors[si]).attr("stroke-width", lw);
    const sh = shapes[si];
    g.append("g").selectAll("path").data(pts).join("path")
      .attr("transform", d=>`translate(${d[0]},${d[1]})`)
      .attr("d", shapePath(sh, ms))
      .attr("fill", filled(sh)?colors[si]:"none")
      .attr("stroke", colors[si]).attr("stroke-width", filled(sh)?0.2:msw);
  });
}

function grid(g, x, y, xt, yt, x0, x1, y0, y1, w){
  const xdom = x.domain(), ydom = y.domain();
  minorOf(yt, ydom).forEach(v=>g.append("line").attr("x1",x0).attr("x2",x1).attr("y1",y(v)).attr("y2",y(v)).attr("stroke","#f0f0f0").attr("stroke-width",w*0.5));
  minorOf(xt, xdom).forEach(v=>g.append("line").attr("y1",y0).attr("y2",y1).attr("x1",x(v)).attr("x2",x(v)).attr("stroke","#f0f0f0").attr("stroke-width",w*0.5));
  yt.forEach(v=>g.append("line").attr("x1",x0).attr("x2",x1).attr("y1",y(v)).attr("y2",y(v)).attr("stroke","#e6e6e6").attr("stroke-width",w));
  xt.forEach(v=>g.append("line").attr("y1",y0).attr("y2",y1).attr("x1",x(v)).attr("x2",x(v)).attr("stroke","#e6e6e6").attr("stroke-width",w));
}

rows.forEach((row, ri) => {
  const top = stripTops[ri] + stripH, bottom = top + panelH;
  const all = row.data.flat(2);
  const ext = d3.extent(all), pad = (ext[1]-ext[0])*0.05;
  const y = d3.scaleLinear().domain([ext[0]-pad, ext[1]+pad]).range([bottom, top]);

  svg.append("text").attr("x",1).attr("y",stripTops[ri]+12.5).text(rowLabels[ri])
    .style("font-family",'"Liberation Serif","Times New Roman",serif').attr("font-size",19).attr("fill","#000");
  svg.append("text").attr("transform",`translate(11.5,${(top+bottom)/2}) rotate(-90)`)
    .attr("text-anchor","middle").attr("font-size",8.8).attr("fill","#000").text(measures[ri]);

  locations.forEach((loc, ci) => {
    const left = firstLeft + ci*panelStep, right = left + panelW;
    const x = d3.scaleLinear().domain(xDom).range([left, right]);
    const g = svg.append("g");
    g.append("rect").attr("x",left).attr("y",top).attr("width",panelW).attr("height",panelH).attr("fill","#fff");
    grid(g, x, y, xTicks, row.ticks, left, right, top, bottom, 0.8);
    drawSeries(g, row.data[ci], x, y, 0.9, 1.45, 0.55);

    if (ci >= 3) {
      const it = row.inset[ci-3];
      const ix0 = left + 6.5, ix1 = right, iy0 = top, iy1 = top + 120;
      const ig = svg.append("g");
      ig.append("rect").attr("x",left+0.5).attr("y",top+0.5).attr("width",panelW-1).attr("height",133).attr("fill","#fff");
      const iext = d3.extent(row.data[ci].flat()), ipad=(iext[1]-iext[0])*0.05;
      const iy = d3.scaleLinear().domain([iext[0]-ipad, iext[1]+ipad]).range([iy1, iy0]);
      const ixs = d3.scaleLinear().domain(xDom).range([ix0, ix1]);
      grid(ig, ixs, iy, xTicks, it, ix0, ix1, iy0, iy1, 0.45);
      drawSeries(ig, row.data[ci], ixs, iy, 0.55, 0.75, 0.35);
      ig.append("rect").attr("x",ix0).attr("y",iy0).attr("width",ix1-ix0).attr("height",iy1-iy0)
        .attr("fill","none").attr("stroke","#333").attr("stroke-width",0.7);
      it.forEach(v=>{
        ig.append("line").attr("x1",ix0-1).attr("x2",ix0).attr("y1",iy(v)).attr("y2",iy(v)).attr("stroke","#333").attr("stroke-width",0.3);
        ig.append("text").attr("x",ix0-1.5).attr("y",iy(v)).attr("dy","0.35em").attr("text-anchor","end")
          .attr("font-size",3.8).attr("fill","#4d4d4d").text(row.ifmt(v));
      });
      xTicks.forEach(v=>{
        ig.append("line").attr("x1",ixs(v)).attr("x2",ixs(v)).attr("y1",iy1).attr("y2",iy1+1).attr("stroke","#333").attr("stroke-width",0.3);
        ig.append("text").attr("transform",`translate(${ixs(v)},${iy1+1.5}) rotate(-45)`)
          .attr("dy","0.75em").attr("text-anchor","end").attr("font-size",3.6).attr("fill","#4d4d4d").text(v);
      });
    }

    svg.append("rect").attr("x",left).attr("y",top).attr("width",panelW).attr("height",panelH)
      .attr("fill","none").attr("stroke","#222").attr("stroke-width",1.1);
    svg.append("rect").attr("x",left).attr("y",stripTops[ri]).attr("width",panelW).attr("height",stripH)
      .attr("fill","#d9d9d9").attr("stroke","#333").attr("stroke-width",0.8);
    svg.append("text").attr("x",(left+right)/2).attr("y",stripTops[ri]+stripH/2).attr("dy","0.35em")
      .attr("text-anchor","middle").attr("font-size",6.8).attr("fill","#1a1a1a").text(loc);
    xTicks.forEach(v=>{
      svg.append("line").attr("x1",x(v)).attr("x2",x(v)).attr("y1",bottom).attr("y2",bottom+2.5).attr("stroke","#333").attr("stroke-width",0.6);
      svg.append("text").attr("transform",`translate(${x(v)+0.5},${bottom+3})rotate(-45)`)
        .attr("dy","0.72em").attr("text-anchor","end").attr("font-size",7.2).attr("fill","#4d4d4d").text(v);
    });
    if (ci === 0) {
      row.ticks.forEach(v=>{
        svg.append("line").attr("x1",left-2.5).attr("x2",left).attr("y1",y(v)).attr("y2",y(v)).attr("stroke","#333").attr("stroke-width",0.6);
        svg.append("text").attr("x",left-3.5).attr("y",y(v)).attr("dy","0.35em").attr("text-anchor","end")
          .attr("font-size",7.2).attr("fill","#4d4d4d").text(v);
      });
    }
  });
});

svg.append("text").attr("x",390).attr("y",740).attr("text-anchor","middle").attr("font-size",8.8).attr("fill","#000").text("Year");

// legend
const lg = svg.append("g");
lg.append("text").attr("x",122).attr("y",14).attr("dy","0.35em").attr("font-size",11).attr("fill","#000").text("Sex/Age groups");
const keyX = [207, 298, 390, 494], keyY = [7.5, 19.5];
groups.forEach((gname, i) => {
  const col = Math.floor(i/2), r = i%2;
  const kx = keyX[col], ky = keyY[r];
  lg.append("line").attr("x1",kx-5).attr("x2",kx+5).attr("y1",ky).attr("y2",ky).attr("stroke",colors[i]).attr("stroke-width",1);
  const sh = shapes[i];
  lg.append("path").attr("transform",`translate(${kx},${ky})`).attr("d",shapePath(sh,2))
    .attr("fill",filled(sh)?colors[i]:"none").attr("stroke",colors[i]).attr("stroke-width",filled(sh)?0.2:0.8);
  lg.append("text").attr("x",kx+7).attr("y",ky).attr("dy","0.35em").attr("font-size",8.8).attr("fill","#000").text(gname);
});
</script>
</body></html>
